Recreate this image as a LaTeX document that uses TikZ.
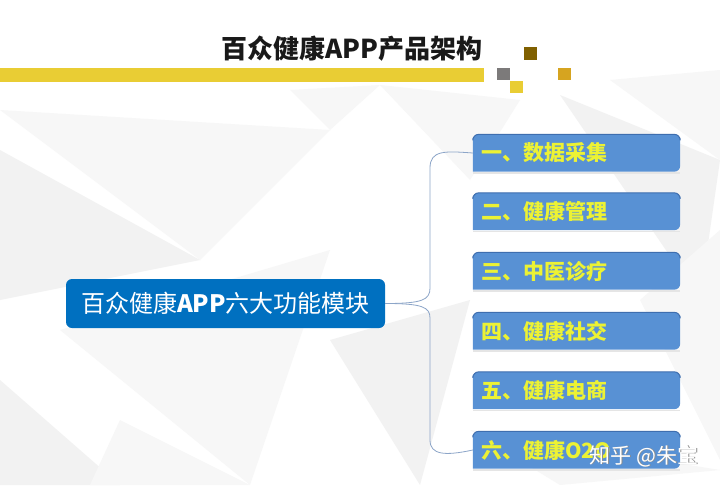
\documentclass[tikz,border=0pt]{standalone}
\usepackage{fontspec}
\newfontfamily\cjk{Noto Sans CJK SC}
\pgfdeclarelayer{deep}
\pgfdeclarelayer{bgfill}
\pgfsetlayers{deep,bgfill,main}
\definecolor{barY}{RGB}{233,205,52}
\definecolor{sqBrown}{RGB}{128,96,0}
\definecolor{sqGray}{RGB}{124,122,122}
\definecolor{sqGold}{RGB}{214,164,32}
\definecolor{mainBlue}{RGB}{0,112,192}
\definecolor{boxBlue}{RGB}{88,145,212}
\definecolor{boxEdge}{RGB}{62,110,175}
\definecolor{txtY}{RGB}{236,242,52}
\definecolor{braceC}{RGB}{140,165,200}
\tikzset{
  boxnode/.style={minimum width=207pt, minimum height=37pt, text width=191pt,
    align=left, inner xsep=8pt, inner ysep=0pt, font=\cjk\bfseries\fontsize{21}{23}\selectfont, text=txtY},
  mainnode/.style={fill=mainBlue, rounded corners=6pt, minimum width=319pt, minimum height=49pt,
    font=\cjk\fontsize{24}{27}\selectfont, text=white, inner sep=0pt},
  bracec/.style={draw=braceC, line width=0.8pt},
  tri/.style={fill=black!5},
  tri2/.style={fill=black!3}
}
\begin{document}
\begin{tikzpicture}[x=1pt,y=-1pt]
\useasboundingbox (0,0) rectangle (720,485);
\begin{pgfonlayer}{deep}
\fill[white] (0,0) rectangle (720,485);
% faint low-poly background
\fill[tri2] (0,110) -- (330,130) -- (200,260) -- cycle;
\fill[tri] (0,150) -- (200,260) -- (0,300) -- cycle;
\fill[tri2] (60,330) -- (330,250) -- (250,485) -- cycle;
\fill[tri] (0,380) -- (120,485) -- (0,485) -- cycle;
\fill[tri2] (120,420) -- (250,485) -- (90,485) -- cycle;
\fill[tri2] (380,85) -- (520,100) -- (470,180) -- cycle;
\fill[tri] (560,95) -- (720,160) -- (700,300) -- cycle;
\fill[tri2] (610,80) -- (720,70) -- (720,160) -- cycle;
\fill[tri2] (640,300) -- (720,230) -- (720,460) -- cycle;
\fill[tri] (330,340) -- (470,300) -- (420,485) -- cycle;
\fill[tri2] (470,430) -- (720,470) -- (560,485) -- cycle;
\fill[tri2] (290,90) -- (380,85) -- (330,130) -- cycle;
\end{pgfonlayer}
% title area
\fill[barY] (0,68) rectangle (484,82);
\node[font=\cjk\bfseries\fontsize{26}{29}\selectfont, text=black!90] (title) at (352,49) {百众健康APP产品架构};
\fill[sqBrown] (524,47) rectangle (537,60);
\fill[sqGray] (497,68) rectangle (510,80);
\fill[barY] (510,81) rectangle (523,93);
\fill[sqGold] (558,68) rectangle (571,80);
% main node
\node[mainnode] (main) at (225.5,303.5) {百众健康\textbf{APP}六大功能模块};
% module boxes
\node[boxnode] (b1) at (576.5,153) {一、数据采集};
\node[boxnode] (b2) at (576.5,211.5) {二、健康管理};
\node[boxnode] (b3) at (576.5,271) {三、中医诊疗};
\node[boxnode] (b4) at (576.5,331) {四、健康社交};
\node[boxnode] (b5) at (576.5,390.5) {五、健康电商};
\node[boxnode] (b6) at (576.5,450) {六、健康O2O};
\begin{pgfonlayer}{bgfill}
\foreach \b in {b1,b2,b3,b4,b5,b6}{
  \fill[black!10] ([yshift=-2pt]\b.south west) rectangle ([yshift=-0.5pt]\b.south east);
  \fill[boxBlue,rounded corners=6pt] (\b.south west) -- (\b.north west) -- (\b.north east) -- (\b.south east) [sharp corners] -- cycle;
  \draw[boxEdge,line width=1pt,rounded corners=6pt] ([yshift=-4pt]\b.north west) -- (\b.north west) -- (\b.north east) -- ([yshift=-4pt]\b.north east);
}
\end{pgfonlayer}
% brace
\draw[bracec] (b1.west) .. controls (445,151) and (430,150) .. (430,168) -- (430,288) .. controls (430,300) and (422,303.5) .. (main.east);
\draw[bracec] (b6.west) .. controls (445,456) and (430,455) .. (430,440) -- (430,318) .. controls (430,307) and (422,303.5) .. (main.east);
% watermark
\node[font=\cjk\fontsize{21}{23}\selectfont, text=black!45] (wm0) at (644.8,456.8) {知乎 @朱宝};
\node[font=\cjk\fontsize{21}{23}\selectfont, text=white] (wm) at (644,456) {知乎 @朱宝};
\end{tikzpicture}
\end{document}
